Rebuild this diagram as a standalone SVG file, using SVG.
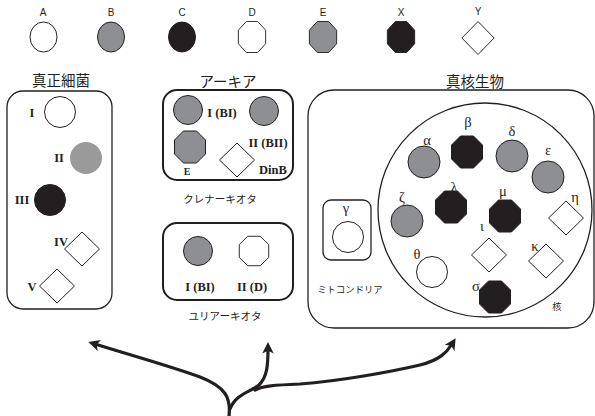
<svg xmlns="http://www.w3.org/2000/svg" width="595" height="416" viewBox="0 0 595 416">
<style>
.lbl{font-family:"Liberation Sans",Arial,sans-serif;font-size:10px;fill:#231f20;text-anchor:middle}
.ttl{font-family:"Noto Sans CJK JP",sans-serif;font-size:14.5px;fill:#231f20;text-anchor:middle}
.sub{font-family:"Noto Sans CJK JP",sans-serif;font-size:10.5px;fill:#231f20;text-anchor:middle}
.sm{font-family:"Noto Sans CJK JP",sans-serif;font-size:9.3px;fill:#231f20;text-anchor:middle}
.rom{font-family:"Liberation Serif",serif;font-size:12.5px;font-weight:bold;fill:#231f20;text-anchor:middle}
.grk{font-family:"Liberation Serif",serif;font-size:14.5px;fill:#231f20;text-anchor:middle}
.w{fill:#fff;stroke:#231f20;stroke-width:1}
.g{fill:#8e8f93;stroke:#231f20;stroke-width:1}
.lg{fill:#9a9a9a;stroke:none}
.b{fill:#231f20;stroke:#231f20;stroke-width:1}
.box{fill:none;stroke:#231f20;stroke-width:1.3}
.tbox{fill:none;stroke:#231f20;stroke-width:2}
.arr{fill:none;stroke:#231f20;stroke-width:3.2;stroke-linecap:round}
</style>
<defs>
<polygon id="oct" points="-6.5,-16 6.5,-16 15.5,-7 15.5,7 6.5,16 -6.5,16 -15.5,7 -15.5,-7"/>
<polygon id="dia" points="0,-17 17.5,0 0,17 -17.5,0"/>
<marker id="ah" viewBox="0 0 10 10" refX="4" refY="5" markerWidth="3.6" markerHeight="3.6" orient="auto" markerUnits="strokeWidth">
<path d="M0,0 L10,5 L0,10 L2.5,5 z" fill="#231f20"/>
</marker>
</defs>

<g id="legend">
<text class="lbl" x="43" y="16">A</text>
<ellipse class="w" cx="43.5" cy="37" rx="13.5" ry="15"/>
<text class="lbl" x="111" y="16">B</text>
<ellipse class="g" cx="111" cy="37" rx="13.5" ry="15"/>
<text class="lbl" x="182" y="16">C</text>
<ellipse class="b" cx="182" cy="37" rx="13.5" ry="15"/>
<text class="lbl" x="252" y="16">D</text>
<use href="#oct" class="w" transform="translate(252,37) scale(0.88,0.97)"/>
<text class="lbl" x="323" y="16">E</text>
<use href="#oct" class="g" transform="translate(323,37) scale(0.88,0.97)"/>
<text class="lbl" x="401" y="16">X</text>
<use href="#oct" class="b" transform="translate(401,37) scale(0.88,0.97)"/>
<text class="lbl" x="478" y="15">Y</text>
<use href="#dia" class="w" transform="translate(478,38) scale(0.92,0.97)"/>
</g>

<g id="bacteria">
<text class="ttl" x="61" y="86">真正細菌</text>
<rect class="box" x="7" y="91" width="105" height="218" rx="16"/>
<text class="rom" x="32" y="117">I</text>
<circle class="w" cx="60" cy="112" r="15.5"/>
<text class="rom" x="59" y="162">II</text>
<circle class="lg" cx="86" cy="158" r="16"/>
<text class="rom" x="22" y="204">III</text>
<circle class="b" cx="50" cy="200" r="15.5"/>
<text class="rom" x="61" y="246">IV</text>
<use href="#dia" class="w" transform="translate(82,249)"/>
<text class="rom" x="32" y="291">V</text>
<use href="#dia" class="w" transform="translate(57,286)"/>
</g>

<g id="archaea">
<text class="ttl" x="228" y="87">アーキア</text>
</g>

<g id="crenarchaeota">
<rect class="tbox" x="163" y="90" width="130" height="90" rx="14"/>
<circle class="g" cx="188" cy="110" r="14.5"/>
<text class="rom" x="222" y="117">I (BI)</text>
<circle class="g" cx="264" cy="111" r="14.5"/>
<text class="rom" x="268" y="147">II (BII)</text>
<use href="#oct" class="g" transform="translate(190,147)"/>
<text class="rom" x="187" y="175" style="font-size:10px">E</text>
<use href="#dia" class="w" transform="translate(237,160)"/>
<text class="rom" x="273" y="174">DinB</text>
<text class="sub" x="220" y="203">クレナーキオタ</text>
</g>

<g id="euryarchaeota">
<rect class="tbox" x="163" y="223" width="130" height="77" rx="14"/>
<circle class="g" cx="198" cy="251" r="14.5"/>
<use href="#oct" class="w" transform="translate(254,251) scale(0.95,0.92)"/>
<text class="rom" x="200" y="291">I (BI)</text>
<text class="rom" x="252" y="291">II (D)</text>
<text class="sub" x="225" y="320">ユリアーキオタ</text>
</g>

<g id="eukaryota">
<text class="ttl" x="475" y="87">真核生物</text>
<rect class="box" x="308" y="90" width="286" height="238" rx="26"/>
</g>

<g id="mitochondria">
<rect class="box" x="323" y="200" width="48" height="60" rx="8"/>
<text class="grk" x="346" y="213">γ</text>
<circle class="w" cx="348" cy="237" r="15.5"/>
<text class="sm" x="350" y="293">ミトコンドリア</text>
</g>

<g id="nucleus">
<circle class="box" cx="485" cy="210" r="107"/>
<text class="sm" x="557" y="310">核</text>
<text class="grk" x="427" y="145">α</text>
<circle class="g" cx="424" cy="162" r="16"/>
<text class="grk" x="468" y="127">β</text>
<use href="#oct" class="b" transform="translate(467,152)"/>
<text class="grk" x="512" y="136">δ</text>
<circle class="g" cx="512" cy="156" r="16"/>
<text class="grk" x="548" y="155">ε</text>
<circle class="g" cx="548" cy="177" r="16"/>
<text class="grk" x="402" y="202">ζ</text>
<circle class="g" cx="407" cy="221" r="16"/>
<text class="grk" x="454" y="192">λ</text>
<use href="#oct" class="b" transform="translate(451,207)"/>
<text class="grk" x="503" y="196">μ</text>
<use href="#oct" class="b" transform="translate(505,216)"/>
<text class="grk" x="575" y="202">η</text>
<use href="#dia" class="w" transform="translate(566,218)"/>
<text class="grk" x="482" y="231">ι</text>
<use href="#dia" class="w" transform="translate(489,255)"/>
<text class="grk" x="535" y="251">κ</text>
<use href="#dia" class="w" transform="translate(546,261)"/>
<text class="grk" x="417" y="259">θ</text>
<circle class="w" cx="432" cy="272" r="15.5"/>
<text class="grk" x="476" y="291">σ</text>
<use href="#oct" class="b" transform="translate(495,297)"/>
</g>

<g id="connectors">
<path class="arr" marker-end="url(#ah)" d="M229,416 C231,398 226,387 200,377 C170,366 130,355 95,344"/>
<path class="arr" marker-end="url(#ah)" d="M230,409 C236,394 250,392 259,385 C267,377 268,366 268,349"/>
<path class="arr" marker-end="url(#ah)" d="M255,390 C262,386 275,385 300,384 C340,381 390,372 420,365 C440,360 447,352 452,344"/>
</g>
</svg>
